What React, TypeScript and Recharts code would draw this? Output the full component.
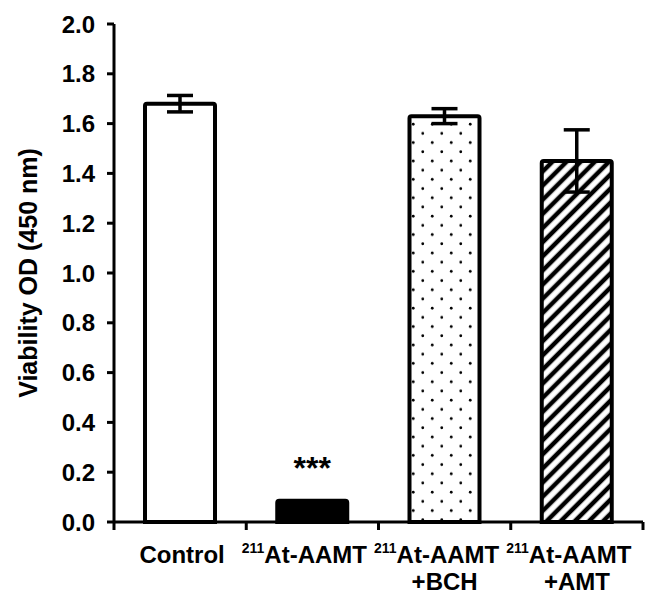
import React from "react";
import { Bar, BarChart, Cell, ErrorBar, LabelList, XAxis, YAxis } from "recharts";

const categories = ["Control", "211At-AAMT", "211At-AAMT +BCH", "211At-AAMT +AMT"];
const means = [1.68, 0.085, 1.63, 1.45];
const errors = [0.033, 0, 0.03, 0.125];
const significance = ["", "***", "", ""];
const yTicks = [0, 0.2, 0.4, 0.6, 0.8, 1.0, 1.2, 1.4, 1.6, 1.8, 2.0];

const fills = ["#ffffff", "#000000", "url(#dots)", "url(#hatch)"];

const W = 646;
const H = 596;
const LEFT = 114;
const RIGHT = 3;
const TOP = 24;
const X_AXIS_H = 74;
const AXIS_Y = H - X_AXIS_H;
const BAND = (W - LEFT - RIGHT) / categories.length;
const FONT = "'Liberation Sans', Arial, Helvetica, sans-serif";

const data = categories.map((name, i) => ({
  name,
  value: means[i],
  err: errors[i],
  sig: significance[i],
}));

function CategoryTick(props: any) {
  const { x, payload, index } = props;
  const label: string = payload.value;
  const [first, second] = label.split(" ");
  const hasSup = first.startsWith("211");
  const main = hasSup ? first.slice(3) : first;
  const left = x - BAND / 2;
  return (
    <g>
      <line x1={left} x2={left} y1={AXIS_Y} y2={AXIS_Y + 8} stroke="#000" strokeWidth={3} />
      {index === categories.length - 1 && (
        <line
          x1={x + BAND / 2}
          x2={x + BAND / 2}
          y1={AXIS_Y}
          y2={AXIS_Y + 8}
          stroke="#000"
          strokeWidth={3}
        />
      )}
      <text
        x={hasSup ? x - 8 : x + 2}
        y={AXIS_Y + 41}
        textAnchor="middle"
        fontFamily={FONT}
        fontWeight={700}
        fontSize={24}
        fill="#000"
      >
        {hasSup && (
          <tspan fontSize={14} dy={-10}>
            211
          </tspan>
        )}
        <tspan dy={hasSup ? 10 : 0}>{main}</tspan>
      </text>
      {second && (
        <text
          x={x}
          y={AXIS_Y + 68}
          textAnchor="middle"
          fontFamily={FONT}
          fontWeight={700}
          fontSize={24}
          fill="#000"
        >
          {second}
        </text>
      )}
    </g>
  );
}

export default function App() {
  return (
    <div style={{ position: "absolute", left: 0, top: 0, width: W, height: H, background: "#fff" }}>
      <BarChart
        width={W}
        height={H}
        data={data}
        margin={{ top: TOP, right: RIGHT, bottom: 0, left: 0 }}
        barSize={70}
      >
        <defs>
          <pattern id="dots" width={19} height={18.4} patternUnits="userSpaceOnUse">
            <rect width={19} height={18.4} fill="#fff" />
            <circle cx={4.75} cy={4.6} r={1.4} fill="#000" />
            <circle cx={14.25} cy={13.8} r={1.4} fill="#000" />
          </pattern>
          <pattern
            id="hatch"
            width={10}
            height={10}
            patternUnits="userSpaceOnUse"
            patternTransform="rotate(45)"
          >
            <rect width={10} height={10} fill="#fff" />
            <line x1={5} x2={5} y1={0} y2={10} stroke="#000" strokeWidth={4.5} />
          </pattern>
        </defs>
        <XAxis
          dataKey="name"
          height={X_AXIS_H}
          tickLine={false}
          axisLine={{ stroke: "#000", strokeWidth: 3 }}
          tick={<CategoryTick />}
          interval={0}
        />
        <YAxis
          width={LEFT}
          domain={[0, 2]}
          ticks={yTicks}
          tickFormatter={(v: number) => v.toFixed(1)}
          tickSize={7}
          tickMargin={12}
          axisLine={{ stroke: "#000", strokeWidth: 3 }}
          tickLine={{ stroke: "#000", strokeWidth: 3 }}
          tick={{ fill: "#000", fontFamily: FONT, fontWeight: 700, fontSize: 24 }}
          label={{
            content: () => (
              <text
                x={37}
                y={(TOP + AXIS_Y) / 2}
                transform={`rotate(-90, 37, ${(TOP + AXIS_Y) / 2})`}
                textAnchor="middle"
                fontFamily={FONT}
                fontWeight={700}
                fontSize={25}
                fill="#000"
              >
                Viability OD (450 nm)
              </text>
            ),
          }}
        />
        <Bar
          dataKey="value"
          stroke="#000"
          strokeWidth={4}
          radius={[2, 2, 0, 0]}
          isAnimationActive={false}
        >
          {data.map((d, i) => (
            <Cell key={d.name} fill={fills[i]} />
          ))}
          <ErrorBar dataKey="err" width={13} stroke="#000" strokeWidth={3.5} />
          <LabelList
            dataKey="sig"
            position="top"
            offset={22}
            fill="#000"
            fontFamily={FONT}
            fontWeight={700}
            fontSize={32}
          />
        </Bar>
      </BarChart>
    </div>
  );
}
